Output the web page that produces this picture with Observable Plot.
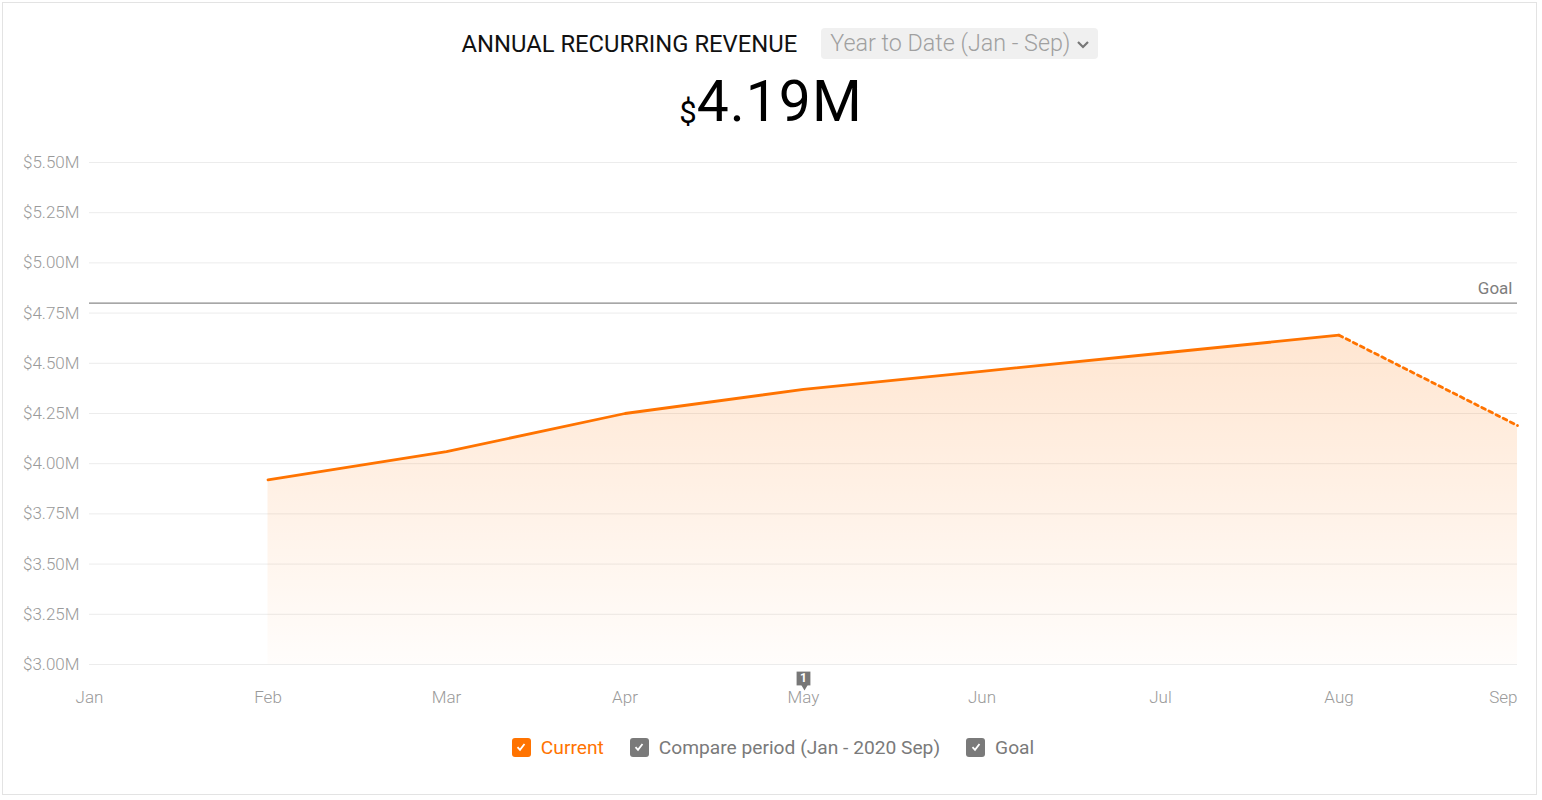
<!DOCTYPE html>
<html>
<head>
<meta charset="utf-8">
<script src="https://cdn.jsdelivr.net/npm/d3@7"></script>
<script src="https://cdn.jsdelivr.net/npm/@observablehq/plot@0.6"></script>
<style>
  html, body { margin: 0; padding: 0; background: #fff; font-family: Roboto, "Noto Sans", sans-serif; }
  #card { position: absolute; left: 2px; top: 2px; width: 1533px; height: 791px; border: 1px solid #e3e3e3; box-sizing: content-box; }
  #title { position: absolute; top: 28px; left: 9px; width: 1542px; text-align: center; white-space: nowrap; }
  #title .t { font-size: 23.8px; color: #111; vertical-align: middle; }
  #title .dd { display: inline-block; margin-left: 24px; background: #f0f0f0; border-radius: 4px; padding: 1px 8px 1px 9px; font-size: 23.3px; color: #a0a0a0; font-weight: 300; vertical-align: middle; line-height: 29px; }
  #title .dd svg { vertical-align: middle; margin-left: 6px; }
  #big { position: absolute; top: 68px; left: 0; width: 1542px; text-align: center; color: #000; }
  #big .cur { font-size: 31px; vertical-align: -2px; }
  #big .num { font-size: 57px; letter-spacing: 1px; }
  #chart { position: absolute; left: 0; top: 140px; }
  #legend { position: absolute; top: 735px; left: 2px; width: 1542px; text-align: center; font-size: 19.2px; white-space: nowrap; }
  .li { display: inline-flex; align-items: center; margin: 0 13px; }
  .box { width: 19px; height: 19px; border-radius: 3px; display: inline-flex; align-items: center; justify-content: center; margin-right: 10px; }
</style>
</head>
<body>
<div id="card"></div>
<div id="title"><span class="t">ANNUAL RECURRING REVENUE</span><span class="dd">Year to Date (Jan - Sep)<svg width="14" height="10" viewBox="0 0 14 10"><path d="M2 2 L7 7 L12 2" fill="none" stroke="#777" stroke-width="2.2"/></svg></span></div>
<div id="big"><span class="cur">$</span><span class="num">4.19M</span></div>
<div id="chart"></div>
<div id="legend"></div>
<script>
const months = ["Jan", "Feb", "Mar", "Apr", "May", "Jun", "Jul", "Aug", "Sep"];
const currentMonths = ["Feb", "Mar", "Apr", "May", "Jun", "Jul", "Aug", "Sep"];
const currentValues = [3.92, 4.06, 4.25, 4.37, 4.46, 4.55, 4.64, 4.19];
const projectedMonths = ["Aug", "Sep"];
const projectedValues = [4.64, 4.19];
const goalValue = 4.80;
const yTicks = [3.00, 3.25, 3.50, 3.75, 4.00, 4.25, 4.50, 4.75, 5.00, 5.25, 5.50];
const annotationMonth = "May";
const annotationCount = "1";
const legendItems = [
  { label: "Current", color: "#ff7300", text: "#ff7300" },
  { label: "Compare period (Jan - 2020 Sep)", color: "#7a7a7a", text: "#7a7a7a" },
  { label: "Goal", color: "#7a7a7a", text: "#7a7a7a" }
];

const mi = m => months.indexOf(m);
const solid = currentMonths.slice(0, 7).map((m, i) => ({ x: mi(m), y: currentValues[i] }));
const full = currentMonths.map((m, i) => ({ x: mi(m), y: currentValues[i] }));
const dashed = projectedMonths.map((m, i) => ({ x: mi(m), y: projectedValues[i] }));
const orange = "#ff7300";

const defs = () => {
  const d = d3.create("svg:defs");
  const g = d.append("linearGradient").attr("id", "arrGrad").attr("x1", 0).attr("y1", 0).attr("x2", 0).attr("y2", 1);
  g.append("stop").attr("offset", "0%").attr("stop-color", orange).attr("stop-opacity", 0.18);
  g.append("stop").attr("offset", "100%").attr("stop-color", orange).attr("stop-opacity", 0.015);
  return d.node();
};

const fmt = d => "$" + d.toFixed(2) + "M";
const tickStyle = { tickSize: 0, fill: "#9a9a9a", fontWeight: 300, fontSize: 17, label: null };

const plot = Plot.plot({
  width: 1542,
  height: 574,
  marginLeft: 89,
  marginRight: 25,
  marginTop: 22,
  marginBottom: 50,
  style: { fontFamily: "Roboto, sans-serif", fontSize: "17px", background: "transparent", overflow: "visible" },
  x: { type: "linear", domain: [0, 8], axis: null },
  y: { domain: [3, 5.5], axis: null },
  marks: [
    defs,
    Plot.ruleY(yTicks, { stroke: "#ececec", strokeWidth: 1 }),
    Plot.axisY({ ...tickStyle, ticks: yTicks, tickFormat: fmt, tickPadding: 10 }),
    Plot.axisX({ ...tickStyle, ticks: d3.range(0, 8), tickFormat: i => months[i], tickPadding: 26 }),
    Plot.axisX({ ...tickStyle, ticks: [8], tickFormat: i => months[i], tickPadding: 26, textAnchor: "end" }),
    Plot.areaY(full, { x: "x", y1: 3, y2: "y", fill: "url(#arrGrad)" }),
    Plot.ruleY([goalValue], { stroke: "#8a8a8a", strokeWidth: 1.2 }),
    Plot.text([goalValue], { x: 8, y: d => d, text: () => "Goal", textAnchor: "end", dx: -5, dy: -15, fill: "#7d7d7d", fontSize: 17 }),
    Plot.line(solid, { x: "x", y: "y", stroke: orange, strokeWidth: 2.8 }),
    Plot.line(dashed, { x: "x", y: "y", stroke: orange, strokeWidth: 2.8, strokeDasharray: "4,4" }),
    Plot.dot([annotationMonth], { x: d => mi(d), y: () => 3, dy: 14, symbol: "square", r: 7.8, fill: "#777", stroke: "none" }),
    Plot.dot([annotationMonth], { x: d => mi(d), y: () => 3, dy: 22, dx: 1, symbol: "triangle", rotate: 180, r: 2.6, fill: "#777", stroke: "none" }),
    Plot.text([annotationMonth], { x: d => mi(d), y: () => 3, dy: 14, text: () => annotationCount, fill: "#fff", fontSize: 12, fontWeight: "bold" })
  ]
});
document.getElementById("chart").appendChild(plot);

const leg = document.getElementById("legend");
legendItems.forEach(it => {
  const s = document.createElement("span");
  s.className = "li";
  s.innerHTML = `<span class="box" style="background:${it.color}"><svg width="12" height="12" viewBox="0 0 12 12"><path d="M2.5 6.2 L5 8.8 L9.5 3" fill="none" stroke="#fff" stroke-width="1.8"/></svg></span><span style="color:${it.text}">${it.label}</span>`;
  leg.appendChild(s);
});
</script>
</body>
</html>
